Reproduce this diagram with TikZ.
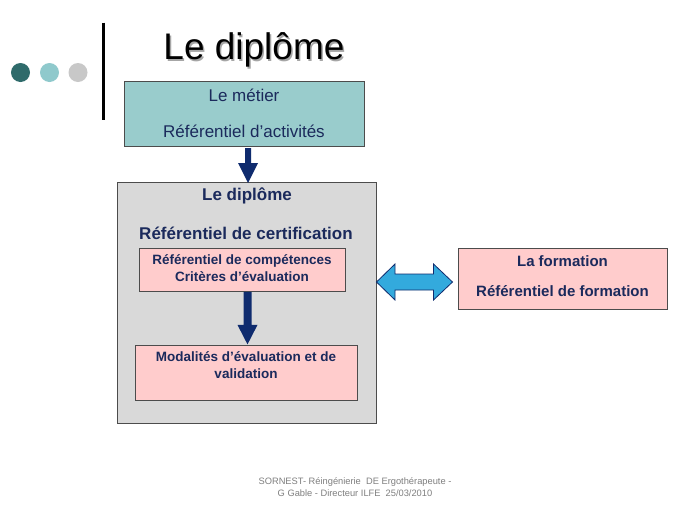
\documentclass[tikz,border=0pt]{standalone}
\usepackage{fontspec}
\usetikzlibrary{calc}
\setmainfont{Liberation Sans}
\definecolor{navy}{HTML}{1B2A5C}
\definecolor{arrownavy}{HTML}{0F2B6E}
\definecolor{tealbox}{HTML}{99CCCC}
\definecolor{pinkbox}{HTML}{FFCCCC}
\definecolor{graybox}{HTML}{D9D9D9}
\definecolor{darkteal}{HTML}{2F6B6B}
\definecolor{lightteal}{HTML}{8FC9CC}
\definecolor{dotgray}{HTML}{C8C8C8}
\definecolor{skyarrow}{HTML}{33AADD}
\definecolor{footgray}{HTML}{7F7F7F}
\begin{document}
\begin{tikzpicture}[x=1pt,y=-1pt,
  boxline/.style={draw=black!70,line width=0.8pt},
  pinkrect/.style={boxline,fill=pinkbox,inner sep=0pt},
  blockarrow/.style={fill=arrownavy,draw=none},
  dot/.style={circle,inner sep=0pt,minimum size=19pt}]
\useasboundingbox (0,0) rectangle (689,517);
\fill[white] (0,0) rectangle (689,517);
% decoration
\node[dot,fill=darkteal] (d1) at (20.5,72.5) {};
\node[dot,fill=lightteal] (d2) at (49.5,72.5) {};
\node[dot,fill=dotgray] (d3) at (78,72.5) {};
\draw[line width=3.5pt] (103.5,22.5) -- (103.5,120);
% title
\node[text=black!35,font=\fontsize{37}{40}\selectfont] at (255.5,51.5) {Le diplôme};
\node[font=\fontsize{37}{40}\selectfont] (title) at (254,50) {Le diplôme};
% top box
\draw[boxline,fill=tealbox] (124,81) rectangle (364,146);
\node[text=navy,font=\fontsize{17}{19}\selectfont] (metier) at (244,95) {Le métier};
\node[text=navy,font=\fontsize{17}{19}\selectfont] (refact) at (244,131) {Référentiel d’activités};
\coordinate (topS) at (248,148);
% gray box
\draw[boxline,fill=graybox] (117,182) rectangle (376,423);
\coordinate (grayN) at (248,183);
\node[text=navy,font=\bfseries\fontsize{17}{19}\selectfont] (dip) at (247,196) {Le diplôme};
\node[text=navy,font=\bfseries\fontsize{17}{19}\selectfont] (cert) at (246,233) {Référentiel de certification};
% pink box 1
\node[pinkrect,minimum width=206pt,minimum height=43pt] (comp) at (242,269.5) {};
\node[text=navy,font=\bfseries\fontsize{13.5}{17}\selectfont,align=center] at (242,268) {Référentiel de compétences\\Critères d’évaluation};
% pink box 2
\node[pinkrect,minimum width=222pt,minimum height=55pt] (moda) at (246,372.5) {};
\node[text=navy,font=\bfseries\fontsize{13.5}{16.5}\selectfont,align=center] at (246,365) {Modalités d’évaluation et de\\validation};
% right box
\node[pinkrect,minimum width=209pt,minimum height=61pt] (form) at (562.5,278.5) {};
\node[text=navy,font=\bfseries\fontsize{15}{17}\selectfont] at (562.5,261) {La formation};
\node[text=navy,font=\bfseries\fontsize{15}{17}\selectfont] at (562.5,291) {Référentiel de formation};
% arrow 1
\fill[blockarrow] (topS) ++(-3,0) -- ++(0,15) -- ++(-7,0) -- (grayN) -- ++(10,-20) -- ++(-7,0) -- ++(0,-15) -- cycle;
% arrow 2
\coordinate (a2top) at ($(comp.south)+(5.5,0.5)$);
\coordinate (a2tip) at ($(comp.south)+(5.5,53)$);
\fill[blockarrow] (a2top) ++(-4,0) -- ++(0,33) -- ++(-6,0) -- (a2tip) -- ++(10,-19.5) -- ++(-6,0) -- ++(0,-33) -- cycle;
% double arrow
\coordinate (L) at (376.5,282);
\coordinate (R) at (452.5,282);
\draw[fill=skyarrow,draw=arrownavy,line width=0.8pt,line join=miter]
  (L) -- ++(18.5,-18) -- ++(0,10) -- ++(38.5,0) -- ++(0,-10) -- (R) -- ++(-19,18) -- ++(0,-10) -- ++(-38.5,0) -- ++(0,10) -- cycle;
% footer
\node[text=footgray,font=\fontsize{9.3}{12}\selectfont,align=center] (foot) at (355,487) {SORNEST- Réingénierie\ \ DE Ergothérapeute -\\G Gable - Directeur ILFE\ \ 25/03/2010};
\end{tikzpicture}
\end{document}
